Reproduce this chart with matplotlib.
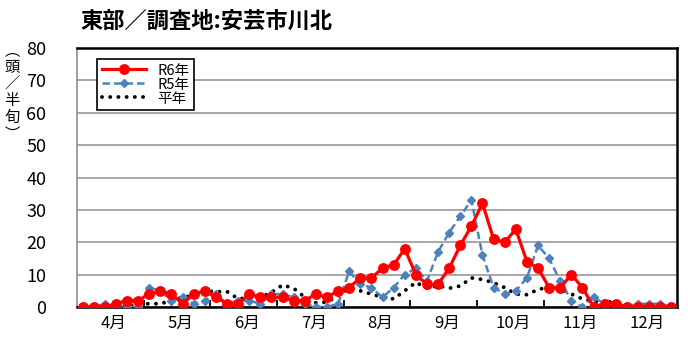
import numpy as np
import matplotlib
matplotlib.use("Agg")
import matplotlib.pyplot as plt

plt.rcParams['font.family'] = ['Noto Sans CJK JP', 'DejaVu Sans']

# half-jun periods, April .. December (6 per month)
months = ['4月', '5月', '6月', '7月', '8月', '9月', '10月', '11月', '12月']

r6 = [0, 0, 0, 1, 2, 2, 4, 5, 4, 1, 4, 5, 3, 1, 1, 4, 3, 3,
      3, 2, 2, 4, 3, 5, 6, 9, 9, 12, 13, 18, 10, 7, 7, 12, 19, 25,
      32, 21, 20, 24, 14, 12, 6, 6, 10, 6, 0, 1, 1, 0, 0, 0, 0, 0]
r5 = [0, 0, 1, 0, 0, 0, 6, 5, 2, 3, 1, 2, 4, 1, 2, 2, 1, 4,
      4, 3, 1, 0, 0, 1, 11, 7, 6, 3, 6, 10, 12, 8, 17, 23, 28, 33,
      16, 6, 4, 5, 9, 19, 15, 8, 2, 0, 3, 1, 1, 0, 1, 1, 1, 0]
avg = [0, 0, 0, 0, 0, 1, 1, 1, 2, 3, 3.5, 5, 4.7, 4.8, 2.6, 2.7, 3, 4.5,
       6.8, 5.8, 3, 1.3, 1.5, 3.5, 5.8, 5, 4, 3, 2.5, 5, 7.6, 5.8, 6.6, 5.8, 6.5, 9,
       8.5, 7.5, 6, 4, 3.8, 5.4, 6.2, 5.7, 4, 2.5, 1.7, 1.8, 1, 0.5, 0.4, 0.4, 0.4, 0.4]

x = np.arange(len(r6))

fig = plt.figure(figsize=(7, 3.56), dpi=100)
ax = fig.add_axes([0.11, 0.1376, 0.857, 0.7276])

ax.plot(x, avg, color='black', linewidth=2.8, linestyle=(0, (0.01, 2.1)),
        dash_capstyle='round', label='平年', zorder=2)
ax.plot(x, r5, color='#4F81BD', linewidth=1.8, linestyle=(0, (3, 1.6)),
        marker='D', markersize=4.5, label='R5年', zorder=3)
ax.plot(x, r6, color='#FF0000', linewidth=2.3, marker='o', markersize=6.8,
        label='R6年', zorder=4)

ax.set_xlim(-0.5, len(r6) - 0.5)
ax.set_ylim(0, 80)
ax.set_yticks(range(0, 81, 10))
ax.yaxis.grid(True, color='#A0A0A0', linewidth=1.3)
ax.set_axisbelow(True)
ax.tick_params(axis='y', length=0, pad=22, labelsize=13)

ax.set_xticks(np.arange(5.5, len(r6) - 1, 6))
ax.set_xticklabels([])
ax.tick_params(axis='x', which='major', direction='in', length=5, width=1.3, color='black')
ax.set_xticks(np.arange(2.5, len(r6), 6) + 0.3, minor=True)
ax.set_xticklabels(months, minor=True)
ax.tick_params(axis='x', which='minor', length=0, pad=6, labelsize=12)

ax.spines['left'].set_color('#909090')
ax.spines['left'].set_linewidth(1.2)
for s in ['top', 'right', 'bottom']:
    ax.spines[s].set_color('black')
    ax.spines[s].set_linewidth(1.8)

h, l = ax.get_legend_handles_labels()
leg = ax.legend(h[::-1], l[::-1], loc='upper left', bbox_to_anchor=(0.022, 0.985),
                fontsize=10.5, handlelength=3.0, labelspacing=0.0,
                borderpad=0.3, fancybox=False, framealpha=1)
leg.get_frame().set_edgecolor('black')
leg.get_frame().set_linewidth(1.2)

fig.text(0.115, 0.94, '東部／調査地:安芸市川北', fontsize=16, fontweight='bold',
         ha='left', va='center')
fig.text(0.017, 0.74, '︵\n頭\n／\n半\n旬\n︶', fontsize=11, ha='center', va='center',
         linespacing=0.98)

fig.savefig('out.png', dpi=100)
